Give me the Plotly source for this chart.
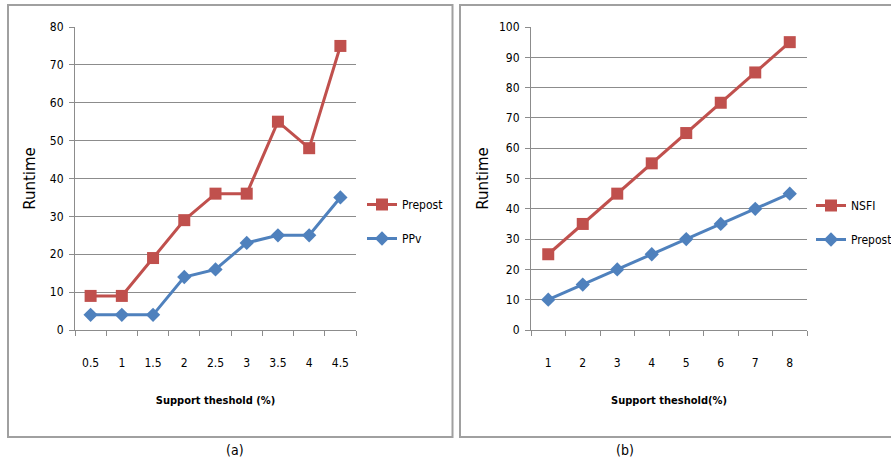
import plotly.graph_objects as go

# Chart (a)
a_categories = ["0.5", "1", "1.5", "2", "2.5", "3", "3.5", "4", "4.5"]
a_prepost = [9, 9, 19, 29, 36, 36, 55, 48, 75]
a_ppv = [4, 4, 4, 14, 16, 23, 25, 25, 35]

# Chart (b)
b_categories = ["1", "2", "3", "4", "5", "6", "7", "8"]
b_nsfi = [25, 35, 45, 55, 65, 75, 85, 95]
b_prepost = [10, 15, 20, 25, 30, 35, 40, 45]

RED = "#C0504D"
BLUE = "#4F81BD"
GRID = "#8C8C8C"
FONT = "DejaVu Sans Condensed, Roboto Condensed, Roboto, sans-serif"

W, H = 891, 463
def px(x):
    return x / W
def py(y):
    return 1 - y / H

fig = go.Figure()

fig.add_trace(go.Scatter(x=a_categories, y=a_prepost, name="Prepost", mode="lines+markers",
                         line=dict(color=RED, width=3), marker=dict(symbol="square", size=12, color=RED),
                         xaxis="x", yaxis="y", legend="legend", legendgroup="a1"))
fig.add_trace(go.Scatter(x=a_categories, y=a_ppv, name="PPv", mode="lines+markers",
                         line=dict(color=BLUE, width=3), marker=dict(symbol="diamond", size=11, color=BLUE),
                         xaxis="x", yaxis="y", legend="legend", legendgroup="a2"))
fig.add_trace(go.Scatter(x=b_categories, y=b_nsfi, name="NSFI", mode="lines+markers",
                         line=dict(color=RED, width=3), marker=dict(symbol="square", size=12, color=RED),
                         xaxis="x2", yaxis="y2", legend="legend2", legendgroup="b1"))
fig.add_trace(go.Scatter(x=b_categories, y=b_prepost, name="Prepost", mode="lines+markers",
                         line=dict(color=BLUE, width=3), marker=dict(symbol="diamond", size=11, color=BLUE),
                         xaxis="x2", yaxis="y2", legend="legend2", legendgroup="b2"))

yd = [py(330), py(27)]
common_x = dict(type="category", showgrid=False, showline=True, linecolor=GRID, linewidth=1,
                ticks="outside", tickson="boundaries", ticklen=5, tickcolor=GRID,
                ticklabelstandoff=22,
                tickfont=dict(family=FONT, size=12, color="#000"),
                title_font=dict(family=FONT, size=11, color="#000"), title_standoff=26)
common_y = dict(showgrid=True, gridcolor=GRID, gridwidth=1, showline=True, linecolor=GRID, linewidth=1,
                ticks="outside", ticklen=5, tickcolor=GRID, zeroline=False, ticklabelstandoff=3,
                tickfont=dict(family=FONT, size=12, color="#000"),
                title_font=dict(family="DejaVu Sans", size=15, color="#000"))

leg_font = dict(family=FONT, size=12, color="#000")

fig.update_layout(
    width=W, height=H, margin=dict(l=0, r=0, t=0, b=0, autoexpand=False),
    paper_bgcolor="white", plot_bgcolor="white",
    xaxis=dict(domain=[px(75), px(356)], anchor="y", range=[-0.5, 8.5],
               title_text="<b>Support theshold (%)</b>", **common_x),
    yaxis=dict(domain=yd, anchor="x", range=[0, 80], dtick=10, title_text="Runtime",
               title_standoff=10, **common_y),
    xaxis2=dict(domain=[px(531), px(807)], anchor="y2", range=[-0.5, 7.5],
                title_text="<b>Support theshold(%)</b>", **common_x),
    yaxis2=dict(domain=yd, anchor="x2", range=[0, 100], dtick=10, title_text="Runtime",
                title_standoff=6, **common_y),
    legend=dict(x=px(362), y=py(190), xanchor="left", yanchor="top", bgcolor="rgba(0,0,0,0)",
                font=leg_font, tracegroupgap=15, itemwidth=30),
    legend2=dict(x=px(811), y=py(191), xanchor="left", yanchor="top", bgcolor="rgba(0,0,0,0)",
                 font=leg_font, tracegroupgap=15, itemwidth=30),
    showlegend=True,
)

# panel borders
fig.add_shape(type="rect", xref="paper", yref="paper", x0=px(8), x1=px(452.5), y0=py(437), y1=py(5),
              line=dict(color="#A0A0A0", width=2), fillcolor="rgba(0,0,0,0)", layer="below")
fig.add_shape(type="rect", xref="paper", yref="paper", x0=px(460), x1=px(895), y0=py(437), y1=py(5),
              line=dict(color="#A0A0A0", width=2), fillcolor="rgba(0,0,0,0)", layer="below")

fig.add_annotation(text="(a)", xref="paper", yref="paper", x=px(224), y=py(450), showarrow=False,
                   yanchor="middle", font=dict(family=FONT, size=14, color="#000"))
fig.add_annotation(text="(b)", xref="paper", yref="paper", x=px(636), y=py(450), showarrow=False,
                   yanchor="middle", font=dict(family=FONT, size=14, color="#000"))

fig.write_html("out.html", config={"displayModeBar": False},
               post_script="document.body.style.margin='0';document.body.style.overflow='hidden';")
